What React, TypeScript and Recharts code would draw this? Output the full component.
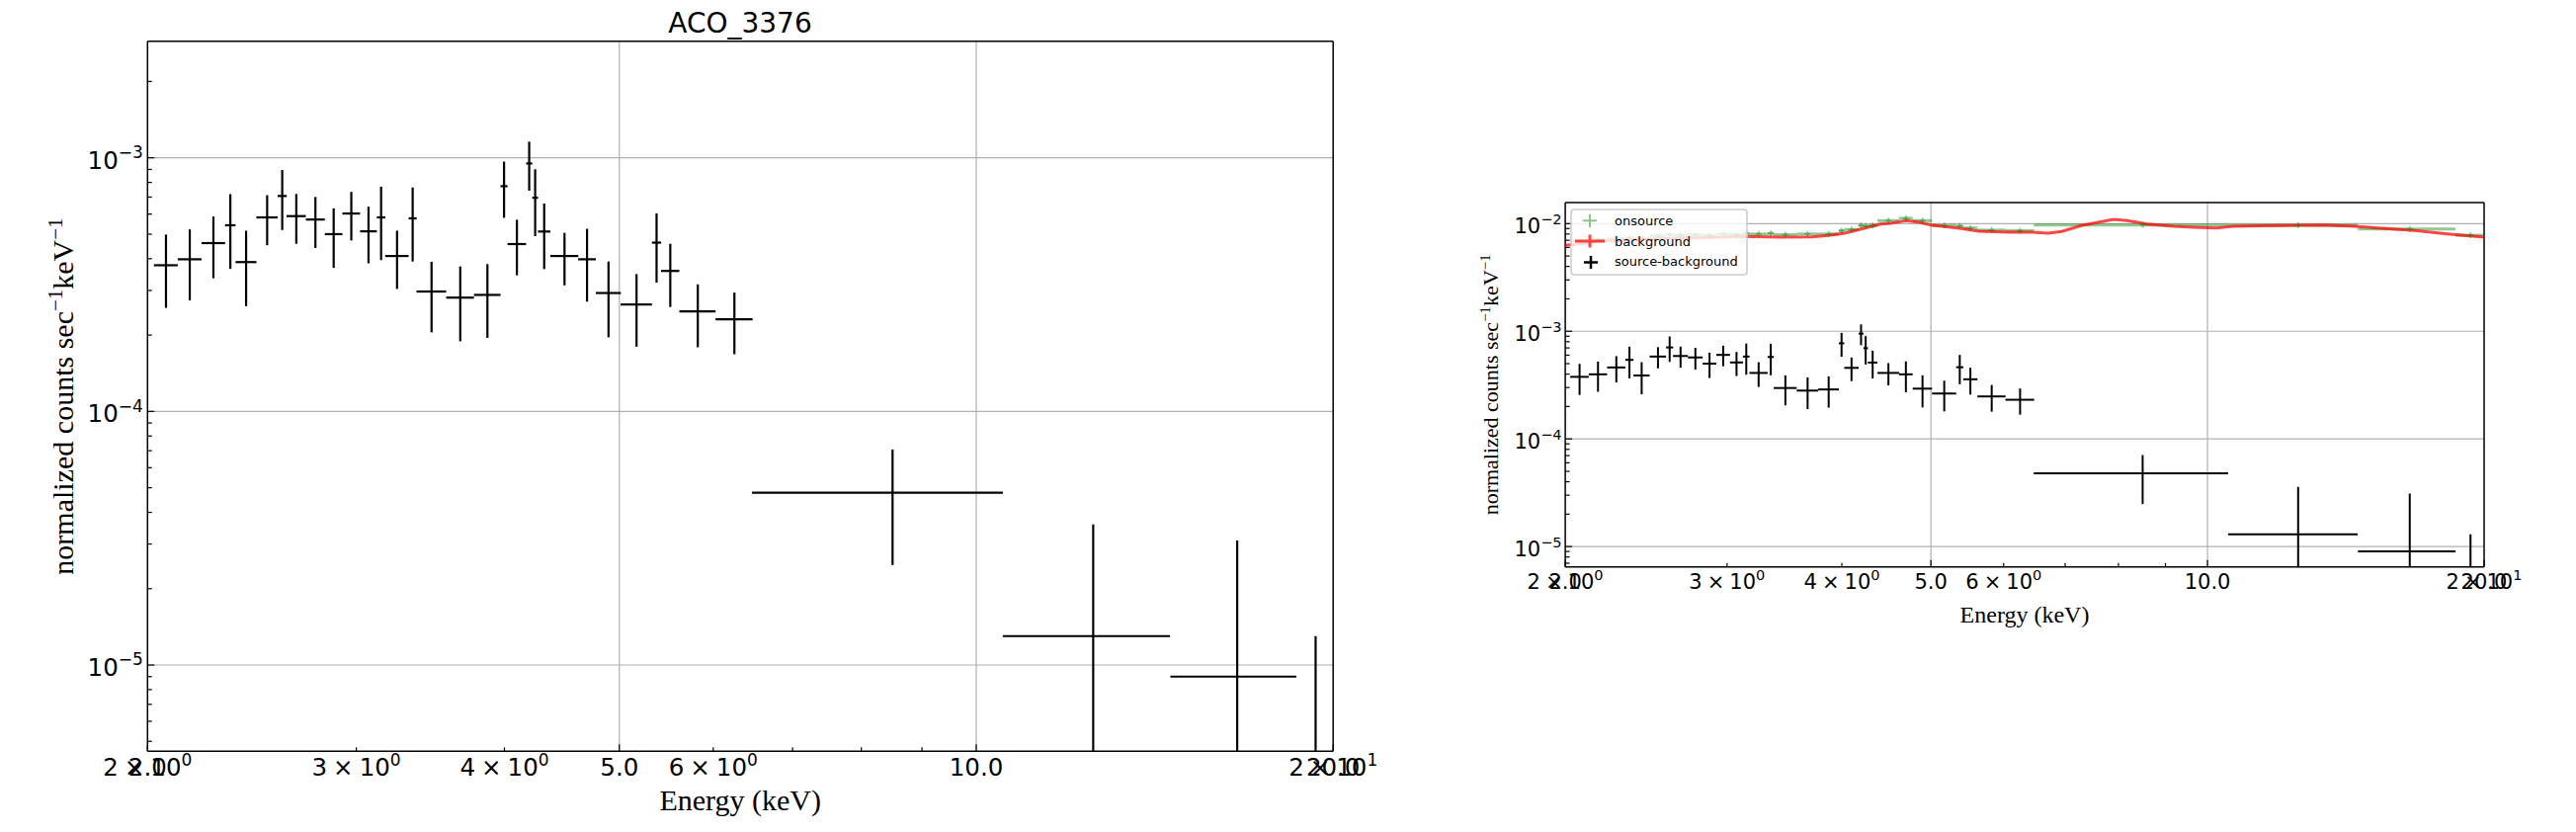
import React from 'react';
import { ComposedChart, Scatter, Line, XAxis, YAxis, CartesianGrid, ErrorBar } from 'recharts';

// ---- source-background spectrum (binned) ----
const binEnergy = [2.073, 2.171, 2.273, 2.349, 2.422, 2.523, 2.598, 2.670, 2.771, 2.871, 2.971, 3.072, 3.148, 3.247, 3.347, 3.472, 3.671, 3.870, 3.997, 4.098, 4.197, 4.246, 4.321, 4.495, 4.696, 4.896, 5.170, 5.375, 5.520, 5.823, 6.252, 8.50, 12.55, 16.60, 19.33];
const binHalfWidth = [0.048, 0.050, 0.052, 0.024, 0.049, 0.052, 0.023, 0.050, 0.051, 0.049, 0.051, 0.050, 0.026, 0.074, 0.026, 0.100, 0.099, 0.100, 0.027, 0.074, 0.025, 0.024, 0.052, 0.122, 0.081, 0.119, 0.157, 0.048, 0.098, 0.205, 0.225, 2.03, 2.02, 2.02, 0.72];
const srcBgRate = [3.77e-4, 3.98e-4, 4.61e-4, 5.42e-4, 3.88e-4, 5.82e-4, 7.07e-4, 5.89e-4, 5.71e-4, 5.00e-4, 6.03e-4, 5.13e-4, 5.82e-4, 4.10e-4, 5.77e-4, 2.97e-4, 2.81e-4, 2.88e-4, 7.73e-4, 4.57e-4, 9.50e-4, 6.96e-4, 5.12e-4, 4.10e-4, 3.98e-4, 2.93e-4, 2.64e-4, 4.63e-4, 3.58e-4, 2.48e-4, 2.31e-4, 4.78e-5, 1.30e-5, 9.0e-6, -9.0e-6];
const srcBgErr = [1.21e-4, 1.24e-4, 1.26e-4, 1.77e-4, 1.28e-4, 1.30e-4, 1.88e-4, 1.31e-4, 1.30e-4, 1.32e-4, 1.31e-4, 1.29e-4, 1.87e-4, 1.06e-4, 1.87e-4, 0.92e-4, 0.92e-4, 0.93e-4, 1.93e-4, 1.13e-4, 2.08e-4, 2.05e-4, 1.48e-4, 0.96e-4, 1.27e-4, 0.97e-4, 0.84e-4, 1.41e-4, 1.00e-4, 0.69e-4, 0.63e-4, 2.30e-5, 2.28e-5, 2.20e-5, 2.20e-5];

// ---- onsource spectrum (same bins) ----
const onsourceRate = [6.9e-3, 7.1e-3, 7.3e-3, 7.4e-3, 7.3e-3, 7.7e-3, 7.9e-3, 7.8e-3, 7.9e-3, 7.8e-3, 8.0e-3, 7.9e-3, 8.1e-3, 8.0e-3, 8.1e-3, 7.9e-3, 8.0e-3, 8.0e-3, 8.6e-3, 8.8e-3, 9.6e-3, 9.5e-3, 9.6e-3, 1.065e-2, 1.12e-2, 1.065e-2, 9.6e-3, 9.5e-3, 9.1e-3, 8.7e-3, 8.6e-3, 9.7e-3, 9.65e-3, 8.9e-3, 7.8e-3];

// ---- background spectrum (fine channels) ----
const bgEnergy = [2.0, 2.08, 2.17, 2.41, 2.66, 2.9, 3.14, 3.42, 3.71, 3.87, 4.03, 4.2, 4.41, 4.52, 4.7, 4.86, 5.0, 5.37, 5.64, 6.08, 6.44, 6.71, 6.94, 7.29, 7.9, 8.18, 8.6, 9.19, 9.65, 10.23, 10.66, 12.07, 13.33, 14.47, 15.46, 16.79, 18.24, 20.0];
const bgRate = [6.28e-3, 6.5e-3, 6.83e-3, 7.1e-3, 7.33e-3, 7.45e-3, 7.6e-3, 7.49e-3, 7.53e-3, 7.76e-3, 8.15e-3, 8.92e-3, 9.9e-3, 1.006e-2, 1.065e-2, 1.028e-2, 9.71e-3, 9.05e-3, 8.5e-3, 8.32e-3, 8.32e-3, 8.15e-3, 8.45e-3, 9.59e-3, 1.095e-2, 1.065e-2, 9.92e-3, 9.45e-3, 9.25e-3, 9.11e-3, 9.45e-3, 9.59e-3, 9.71e-3, 9.45e-3, 9.05e-3, 8.63e-3, 8.03e-3, 7.49e-3];

// ---- axis ticks ----
const xTicks = [2, 3, 4, 5, 6, 7, 8, 9, 10, 20];
const xTickSci = ['2,0', '3,0', '4,0', '', '6,0', '', '', '', '', '2,1'];
const xTickPlain = ['2.0', '', '', '5.0', '', '', '', '', '10.0', '20.0'];
const xMajor = [2, 5, 10, 20];
const xGrid = [5, 10];
const leftYGrid = [1e-5, 1e-4, 1e-3];
const rightYGrid = [1e-5, 1e-4, 1e-3, 1e-2];

const FLOOR = 1e-7;
const AX = 1; // thickness reserved for each axis

function logTicks(lo: number, hi: number) {
  const out: number[] = [];
  for (let e = Math.floor(Math.log10(lo)); e <= Math.ceil(Math.log10(hi)); e++) {
    for (let m = 1; m <= 9; m++) {
      const v = m * Math.pow(10, e);
      if (v >= lo && v <= hi) out.push(v);
    }
  }
  return out;
}

const srcData = binEnergy.map((e, i) => {
  const v = srcBgRate[i];
  const err = srcBgErr[i];
  const vp = Math.max(v, FLOOR);
  const lo = Math.max(v - err, FLOOR / 2);
  return { e, v: vp, ex: binHalfWidth[i], ey: [vp - lo, v + err - vp] };
});
const onData = binEnergy.map((e, i) => ({ e, v: onsourceRate[i], ex: binHalfWidth[i] }));
const bgData = bgEnergy.map((e, i) => ({ e, v: bgRate[i] }));

type Box = { top: number; right: number; bottom: number; left: number };
type Cfg = {
  left: number; width: number; height: number;
  plot: Box; // plot-area edges relative to the panel
  yDomain: [number, number]; yGrid: number[];
  tickFs: number; supFs: number; supRaise: number; gap: number;
  xLabelOff: number; yLabelPad: number; yBaseOff: number; lineW: number;
  showOnBg: boolean;
};

const leftCfg: Cfg = {
  left: 0, width: 1400, height: 842,
  plot: { left: 149.3, top: 41.8, right: 1349.2, bottom: 760.3 },
  yDomain: [4.57e-6, 2.88e-3], yGrid: leftYGrid,
  tickFs: 24.5, supFs: 17, supRaise: 10.5, gap: 6,
  xLabelOff: 24.7, yLabelPad: 4.5, yBaseOff: 10.8, lineW: 2.2,
  showOnBg: false,
};
const rightCfg: Cfg = {
  left: 1400, width: 1207, height: 842,
  plot: { left: 184.1, top: 205, right: 1114, bottom: 573.8 },
  yDomain: [6.46e-6, 1.568e-2], yGrid: rightYGrid,
  tickFs: 21, supFs: 14.5, supRaise: 9, gap: 5,
  xLabelOff: 22, yLabelPad: 3.5, yBaseOff: 10, lineW: 2,
  showOnBg: true,
};

function XTick(props: any) {
  const { x, y, payload, cfg } = props;
  const v = payload.value as number;
  const i = xTicks.indexOf(v);
  const major = xMajor.includes(v);
  const len = major ? 7 : 4;
  const sci = i >= 0 ? xTickSci[i] : '';
  const plain = i >= 0 ? xTickPlain[i] : '';
  const by = y + cfg.xLabelOff;
  const gap = cfg.gap;
  const parts = sci ? sci.split(',') : null;
  return (
    <g>
      <line x1={x} x2={x} y1={y} y2={y - len} stroke="#000" strokeWidth={1.2} />
      {parts && (
        <text x={x} y={by} textAnchor="middle" fontFamily="DejaVu Sans" fontSize={cfg.tickFs} fill="#000">
          {parts[0]}<tspan dx={gap}>×</tspan><tspan dx={gap}>10</tspan><tspan dy={-cfg.supRaise} fontSize={cfg.supFs}>{parts[1]}</tspan>
        </text>
      )}
      {plain && (
        <text x={x} y={by} textAnchor="middle" fontFamily="DejaVu Sans" fontSize={cfg.tickFs} fill="#000">{plain}</text>
      )}
    </g>
  );
}

function YTick(props: any) {
  const { x, y, payload, cfg } = props;
  const v = payload.value as number;
  const lg = Math.log10(v);
  const exp = Math.round(lg);
  const major = Math.abs(lg - exp) < 1e-6;
  const len = major ? 7 : 4.5;
  return (
    <g>
      <line x1={x} x2={x + len} y1={y} y2={y} stroke="#000" strokeWidth={1.2} />
      {major && (
        <text x={x - cfg.yLabelPad} y={y + cfg.yBaseOff} textAnchor="end" fontFamily="DejaVu Sans" fontSize={cfg.tickFs} fill="#000">
          10<tspan dy={-cfg.supRaise} fontSize={cfg.supFs}>{'\u2212' + Math.abs(exp)}</tspan>
        </text>
      )}
    </g>
  );
}

const noShape = () => <g />;
const greenPlus = (p: any) => (
  <path d={`M${p.cx - 3},${p.cy}h6M${p.cx},${p.cy - 3}v6`} stroke="rgba(0,128,0,0.45)" strokeWidth={1.5} fill="none" />
);

function chartMargin(cfg: Cfg) {
  return {
    top: cfg.plot.top - AX,
    left: cfg.plot.left - AX,
    right: cfg.width - cfg.plot.right - AX,
    bottom: cfg.height - cfg.plot.bottom - AX,
  };
}

function Axes({ cfg, visible }: { cfg: Cfg; visible: boolean }) {
  const yTicks = logTicks(cfg.yDomain[0], cfg.yDomain[1]);
  const line = visible ? { stroke: '#000', strokeWidth: 1.5 } : false;
  return [
    <XAxis key="xb" type="number" dataKey="e" scale="log" domain={[2, 20]} allowDataOverflow ticks={xTicks} interval={0}
      height={AX} tickSize={0} tickMargin={0} tickLine={false} axisLine={line as any}
      tick={visible ? (p: any) => <XTick {...p} cfg={cfg} /> : false} />,
    <XAxis key="xt" xAxisId="top" orientation="top" type="number" scale="log" domain={[2, 20]} allowDataOverflow
      height={AX} tick={false} tickLine={false} axisLine={line as any} />,
    <YAxis key="yl" type="number" dataKey="v" scale="log" domain={cfg.yDomain} allowDataOverflow ticks={yTicks} interval={0}
      width={AX} tickSize={0} tickMargin={0} tickLine={false} axisLine={line as any}
      tick={visible ? (p: any) => <YTick {...p} cfg={cfg} /> : false} />,
    <YAxis key="yr" yAxisId="right" orientation="right" type="number" domain={[0, 1]}
      width={AX} tick={false} tickLine={false} axisLine={line as any} />,
  ];
}

function Panel({ cfg }: { cfg: Cfg }) {
  const margin = chartMargin(cfg);
  const pw = cfg.plot.right - cfg.plot.left;
  const ph = cfg.plot.bottom - cfg.plot.top;
  return (
    <div style={{ position: 'absolute', left: cfg.left, top: 0, width: cfg.width, height: cfg.height }}>
      {/* frame, grid, ticks */}
      <div style={{ position: 'absolute', left: 0, top: 0 }}>
        <ComposedChart width={cfg.width} height={cfg.height} margin={margin}>
          <CartesianGrid horizontalValues={cfg.yGrid} verticalValues={xGrid} stroke="#b0b0b0" strokeWidth={1.2} />
          {Axes({ cfg, visible: true })}
          <Scatter data={srcData} dataKey="v" isAnimationActive={false} shape={noShape} />
        </ComposedChart>
      </div>
      {/* data, clipped to the plot area */}
      <div style={{ position: 'absolute', left: cfg.plot.left, top: cfg.plot.top, width: pw, height: ph, overflow: 'hidden' }}>
        <div style={{ position: 'absolute', left: -cfg.plot.left, top: -cfg.plot.top }}>
          <ComposedChart width={cfg.width} height={cfg.height} margin={margin}>
            {Axes({ cfg, visible: false })}
            {cfg.showOnBg && (
              <Scatter data={onData} dataKey="v" isAnimationActive={false} shape={greenPlus} fill="green">
                <ErrorBar dataKey="ex" direction="x" width={0} stroke="rgba(0,128,0,0.43)" strokeWidth={3} isAnimationActive={false} />
              </Scatter>
            )}
            {cfg.showOnBg && (
              <Line data={bgData} dataKey="v" type="linear" dot={false} stroke="rgba(255,0,0,0.72)" strokeWidth={3} isAnimationActive={false} />
            )}
            <Scatter data={srcData} dataKey="v" isAnimationActive={false} shape={noShape} fill="#000">
              <ErrorBar dataKey="ex" direction="x" width={0} stroke="#000" strokeWidth={cfg.lineW} isAnimationActive={false} />
              <ErrorBar dataKey="ey" direction="y" width={0} stroke="#000" strokeWidth={cfg.lineW} isAnimationActive={false} />
            </Scatter>
          </ComposedChart>
        </div>
      </div>
    </div>
  );
}

function Overlay() {
  return (
    <svg width={2607} height={842} style={{ position: 'absolute', left: 0, top: 0, pointerEvents: 'none' }}>
      <text x={749} y={33} textAnchor="middle" fontFamily="DejaVu Sans" fontSize={28} fill="#000">ACO_3376</text>
      <text transform="translate(74,401) rotate(-90)" textAnchor="middle" fontFamily="Liberation Serif" fontSize={30} fill="#000">
        normalized counts sec<tspan dy={-11} fontSize={21}>{'\u22121'}</tspan><tspan dy={11}>keV</tspan><tspan dy={-11} fontSize={21}>{'\u22121'}</tspan>
      </text>
      <text x={749.2} y={820} textAnchor="middle" fontFamily="Liberation Serif" fontSize={30} fill="#000">Energy (keV)</text>

      <text transform="translate(1516,389.3) rotate(-90)" textAnchor="middle" fontFamily="Liberation Serif" fontSize={22} fill="#000">
        normalized counts sec<tspan dy={-8} fontSize={15}>{'\u22121'}</tspan><tspan dy={8}>keV</tspan><tspan dy={-8} fontSize={15}>{'\u22121'}</tspan>
      </text>
      <text x={2049} y={630} textAnchor="middle" fontFamily="Liberation Serif" fontSize={24} fill="#000">Energy (keV)</text>

      <rect x={1590} y={212} width={178} height={66} rx={3} fill="rgba(255,255,255,0.8)" stroke="#cccccc" strokeWidth={1.5} />
      <path d="M1602,223.3h14M1609,216.7v13.3" stroke="rgba(0,128,0,0.45)" strokeWidth={2} fill="none" />
      <path d="M1594,244h30M1609,237.5v13" stroke="rgba(255,0,0,0.72)" strokeWidth={3} fill="none" />
      <path d="M1603,265.5h14M1610,259v13" stroke="#000" strokeWidth={2.5} fill="none" />
      <text x={1634} y={228} fontFamily="DejaVu Sans" fontSize={13} fill="#000">onsource</text>
      <text x={1634} y={248.5} fontFamily="DejaVu Sans" fontSize={13} fill="#000">background</text>
      <text x={1634} y={269} fontFamily="DejaVu Sans" fontSize={13} fill="#000">source-background</text>
    </svg>
  );
}

export default function App() {
  return (
    <div style={{ position: 'absolute', left: 0, top: 0, width: 2607, height: 842, background: '#fff', overflow: 'hidden' }}>
      <Panel cfg={leftCfg} />
      <Panel cfg={rightCfg} />
      <Overlay />
    </div>
  );
}
